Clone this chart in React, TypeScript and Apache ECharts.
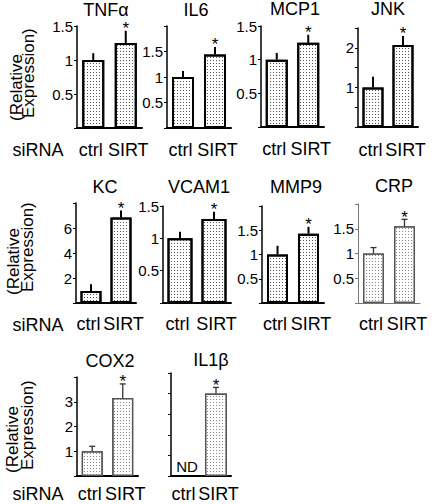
import React, { useEffect, useRef } from "react";
import * as echarts from "echarts";

// ---------- data ----------
const categories = ["ctrl", "SIRT"];
const titles = ["TNFα", "IL6", "MCP1", "JNK", "KC", "VCAM1", "MMP9", "CRP", "COX2", "IL1β"];
const barValues: (number | null)[][] = [
  [1.0, 1.25],
  [1.0, 1.44],
  [1.0, 1.25],
  [1.0, 2.07],
  [0.96, 6.85],
  [1.0, 1.3],
  [1.0, 1.43],
  [1.0, 1.55],
  [1.0, 3.15],
  [null, 4.0],
];
const errorTops: (number | null)[][] = [
  [1.1, 1.43],
  [1.12, 1.59],
  [1.1, 1.37],
  [1.27, 2.3],
  [1.5, 7.4],
  [1.1, 1.41],
  [1.18, 1.57],
  [1.12, 1.69],
  [1.2, 3.72],
  [null, 4.3],
];
const significant = [
  [false, true],
  [false, true],
  [false, true],
  [false, true],
  [false, true],
  [false, true],
  [false, true],
  [false, true],
  [false, true],
  [false, true],
];
const yMax = [1.5, 2, 1.5, 2.5, 8, 1.5, 2, 2, 4, 5];
const yInterval = [0.5, 0.5, 0.5, 0.5, 2, 0.5, 0.5, 0.5, 1, 1];
const yTickLabels = [
  [0.5, 1, 1.5],
  [0.5, 1, 1.5],
  [0.5, 1, 1.5],
  [1, 2],
  [2, 4, 6],
  [0.5, 1, 1.5],
  [0.5, 1, 1.5],
  [0.5, 1, 1.5],
  [1, 2, 3],
  [],
];
const yAxisNameLines = ["(Relative", "Expression)"];
const rowLabel = "siRNA";
const notDetected = "ND";

// ---------- layout ----------
const gridLayout = [
  { left: 77, top: 26, width: 65, height: 102 },
  { left: 167, top: 26, width: 64, height: 102 },
  { left: 261, top: 26, width: 63, height: 101 },
  { left: 358, top: 28, width: 60, height: 99 },
  { left: 76, top: 203, width: 60, height: 100 },
  { left: 163, top: 206, width: 68, height: 97 },
  { left: 262, top: 206, width: 62, height: 97 },
  { left: 358, top: 204, width: 62, height: 99 },
  { left: 77, top: 377, width: 61, height: 99 },
  { left: 171, top: 373, width: 60, height: 103 },
];
const titlePos = [
  [106, 10], [196, 10], [295, 9], [388, 9],
  [105, 187], [199, 187], [296, 187], [394, 186],
  [110, 361], [211, 360],
];
const barWidths = [22, 22, 22, 21, 21, 25, 21, 21, 21, 22];
const xLabelMargin = [13, 13, 13, 14, 12, 12, 12, 12, 9, 9];
const lightStyle = [false, false, false, false, false, false, false, true, true, true];
const rowYName = [
  { x1: 16, x2: 28, y: 121 },
  { x1: 13, x2: 27, y: 295 },
  { x1: 12, x2: 27, y: 473 },
];
const rowLabelY = [150, 325, 494];

const FONT = "'Liberation Sans', Arial, Helvetica, sans-serif";

export default function App() {
  const ref = useRef<HTMLDivElement>(null);

  useEffect(() => {
    if (!ref.current) return;
    const chart = echarts.init(ref.current, null, { renderer: "svg" });

    const grids: any[] = [];
    const xAxes: any[] = [];
    const yAxes: any[] = [];
    const series: any[] = [];
    const graphics: any[] = [];

    titles.forEach((t, i) => {
      const light = lightStyle[i];
      const axisColor = i === 7 ? "#777" : "#000";
      grids.push({ ...gridLayout[i], containLabel: false });
      xAxes.push({
        gridIndex: i,
        type: "category",
        data: categories,
        axisLine: { lineStyle: { color: axisColor, width: i === 7 ? 1.2 : 2 } },
        axisTick: { show: false },
        axisLabel: {
          color: "#000",
          fontSize: 18,
          fontFamily: FONT,
          margin: xLabelMargin[i],
          interval: 0,
          formatter: (v: string) => (v === categories[0] ? `{a|${v}}` : `{b|${v}}`),
          rich: {
            a: { fontSize: 18, fontFamily: FONT, color: "#000", padding: [0, 5, 0, 0] },
            b: { fontSize: 18, fontFamily: FONT, color: "#000", padding: [0, 0, 0, 5] },
          },
        },
      });
      const labels = yTickLabels[i];
      yAxes.push({
        gridIndex: i,
        type: "value",
        min: 0,
        max: yMax[i],
        interval: yInterval[i],
        splitLine: { show: false },
        axisLine: { show: true, lineStyle: { color: axisColor, width: i === 7 ? 1 : 1.5 } },
        axisTick: { show: true, length: 3, lineStyle: { color: axisColor, width: 1 } },
        axisLabel: {
          color: "#000",
          fontSize: 15,
          fontFamily: FONT,
          margin: 4,
          formatter: (v: number) => (labels.some((l) => Math.abs(l - v) < 1e-9) ? String(v) : ""),
        },
      });
      series.push({
        type: "bar",
        xAxisIndex: i,
        yAxisIndex: i,
        data: barValues[i],
        barWidth: barWidths[i],
        silent: true,
        itemStyle: {
          color: "#fff",
          borderColor: light ? "#555" : "#000",
          borderWidth: light ? 1.3 : 2,
          decal: {
            symbol: "rect",
            symbolSize: 1,
            color: light ? "#888" : "#555",
            backgroundColor: "#fff",
            dashArrayX: [1, 2],
            dashArrayY: [1, 2],
            rotation: 0,
          },
        },
      });
      const errData: any[] = [];
      errorTops[i].forEach((e, k) => {
        if (e == null || barValues[i][k] == null) return;
        errData.push([k, e, barValues[i][k], significant[i][k] ? 1 : 0]);
      });
      series.push({
        type: "custom",
        xAxisIndex: i,
        yAxisIndex: i,
        data: errData,
        silent: true,
        z: 5,
        renderItem: (params: any, api: any) => {
          const idx = api.value(0);
          const top = api.coord([idx, api.value(1)]);
          const base = api.coord([idx, api.value(2)]);
          const children: any[] = [
            {
              type: "line",
              shape: { x1: top[0], y1: base[1], x2: top[0], y2: top[1] },
              style: { stroke: light ? "#333" : "#000", lineWidth: light ? 1.3 : 2 },
            },
          ];
          if (light) {
            children.push({
              type: "line",
              shape: { x1: top[0] - 3, y1: top[1], x2: top[0] + 3, y2: top[1] },
              style: { stroke: "#333", lineWidth: 1.3 },
            });
          }
          if (api.value(3) === 1) {
            children.push({
              type: "text",
              x: top[0],
              y: top[1] - 2,
              style: {
                text: "*",
                fontSize: 17,
                lineHeight: 10,
                fontFamily: FONT,
                fill: "#000",
                align: "center",
                verticalAlign: "middle",
              },
            });
          }
          return { type: "group", children };
        },
      });

      graphics.push({
        type: "text",
        x: titlePos[i][0],
        y: titlePos[i][1],
        style: {
          text: t,
          fontSize: 18,
          fontFamily: FONT,
          fill: "#000",
          align: "center",
          verticalAlign: "middle",
        },
      });
    });

    rowYName.forEach((r, ri) => {
      graphics.push({
        type: "text",
        x: r.x1,
        y: r.y,
        rotation: Math.PI / 2,
        style: {
          text: yAxisNameLines[0],
          fontSize: 17,
          fontFamily: FONT,
          fill: "#000",
          align: "left",
          verticalAlign: "middle",
        },
      });
      graphics.push({
        type: "text",
        x: r.x2,
        y: r.y - 3,
        rotation: Math.PI / 2,
        style: {
          text: yAxisNameLines[1],
          fontSize: 17,
          fontFamily: FONT,
          fill: "#000",
          align: "left",
          verticalAlign: "middle",
        },
      });
      graphics.push({
        type: "text",
        x: 38,
        y: rowLabelY[ri],
        style: {
          text: rowLabel,
          fontSize: 18,
          fontFamily: FONT,
          fill: "#000",
          align: "center",
          verticalAlign: "middle",
        },
      });
    });

    graphics.push({
      type: "text",
      x: 187,
      y: 466,
      style: {
        text: notDetected,
        fontSize: 15,
        fontFamily: FONT,
        fill: "#000",
        align: "center",
        verticalAlign: "middle",
      },
    });

    chart.setOption({
      animation: false,
      backgroundColor: "#fff",
      grid: grids,
      xAxis: xAxes,
      yAxis: yAxes,
      series,
      graphic: graphics,
    });

    return () => chart.dispose();
  }, []);

  return (
    <div
      ref={ref}
      style={{ position: "absolute", left: 0, top: 0, width: 432, height: 504 }}
    />
  );
}
